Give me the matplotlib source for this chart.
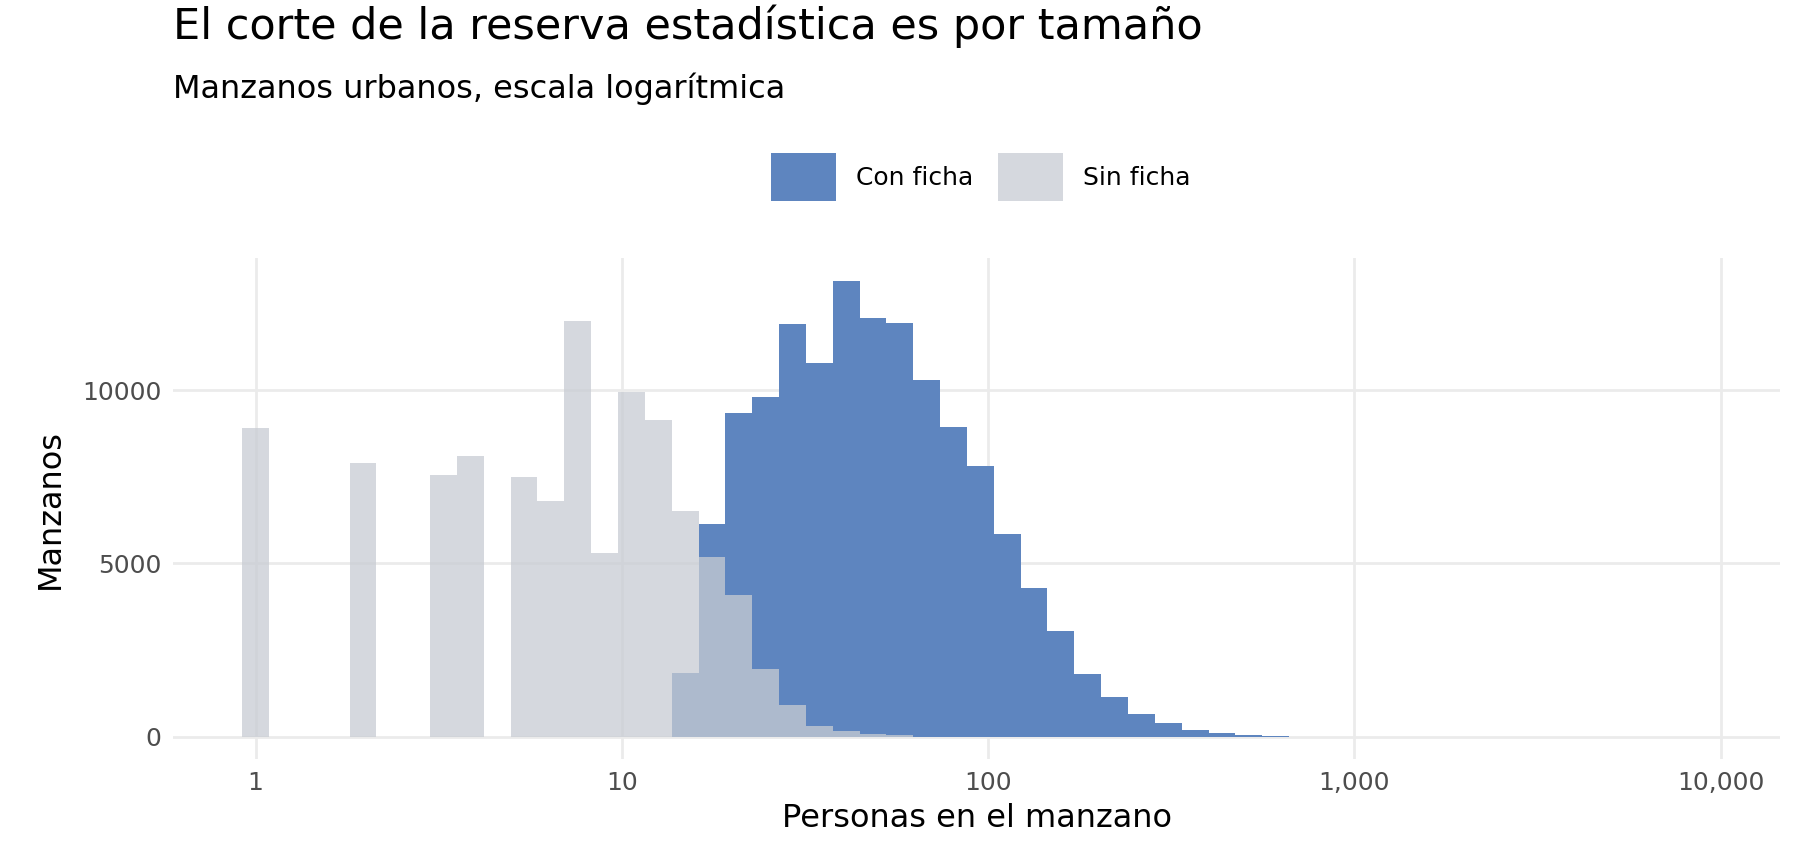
import numpy as np
import matplotlib.pyplot as plt
from matplotlib.ticker import FixedLocator, FixedFormatter

# bin width in log10 units, bins centred on k * w
w = 0.0733

con_k = list(range(16, 39))
con_n = [1850, 6150, 9350, 9800, 11900, 10800, 13150, 12100, 11950, 10300, 8950,
         7800, 5850, 4300, 3050, 1800, 1150, 650, 380, 180, 90, 40, 25]

sin_k = [0, 4, 7, 8, 10, 11, 12, 13, 14, 15, 16, 17, 18, 19, 20, 21, 22, 23, 24]
sin_n = [8900, 7900, 7550, 8100, 7500, 6800, 12000, 5300, 9950, 9150, 6500,
         5200, 4100, 1950, 900, 300, 150, 80, 40]

xticks = [1, 10, 100, 1000, 10000]
xlabels = ['1', '10', '100', '1,000', '10,000']

def edges(ks):
    ks = np.array(ks)
    lo = 10 ** (ks * w - w / 2)
    hi = 10 ** (ks * w + w / 2)
    return lo, hi - lo

fig = plt.figure(figsize=(18, 8.64), dpi=100)
ax = fig.add_axes([0.096, 0.121, 0.893, 0.58])

lo, wd = edges(con_k)
ax.bar(lo, con_n, width=wd, align='edge', color='#5e85bf', label='Con ficha', zorder=2)
lo, wd = edges(sin_k)
ax.bar(lo, sin_n, width=wd, align='edge', color='#c8ccd3', alpha=0.75, label='Sin ficha', zorder=3)

ax.set_xscale('log')
ax.set_xlim(10 ** -0.226, 10 ** 4.163)
ax.set_ylim(-660, 13810)
ax.xaxis.set_major_locator(FixedLocator(xticks))
ax.xaxis.set_major_formatter(FixedFormatter(xlabels))
ax.xaxis.set_minor_locator(FixedLocator([]))
ax.set_yticks([0, 5000, 10000])
ax.grid(True, color='#ebebeb', linewidth=2, zorder=0)
ax.set_axisbelow(True)
for s in ax.spines.values():
    s.set_visible(False)
ax.tick_params(length=0, labelsize=18, labelcolor='#4d4d4d', pad=8)
ax.set_xlabel('Personas en el manzano', fontsize=23, labelpad=6)
ax.set_ylabel('Manzanos', fontsize=23, labelpad=12)

fig.text(0.096, 0.945, 'El corte de la reserva estadística es por tamaño', fontsize=31, va='bottom')
fig.text(0.096, 0.878, 'Manzanos urbanos, escala logarítmica', fontsize=23, va='bottom')
fig.legend(loc='center', bbox_to_anchor=(0.545, 0.795), ncol=2, frameon=False,
           fontsize=18, handlelength=2.6, handleheight=2.6, columnspacing=1.0)

fig.savefig('out.png', dpi=100)
